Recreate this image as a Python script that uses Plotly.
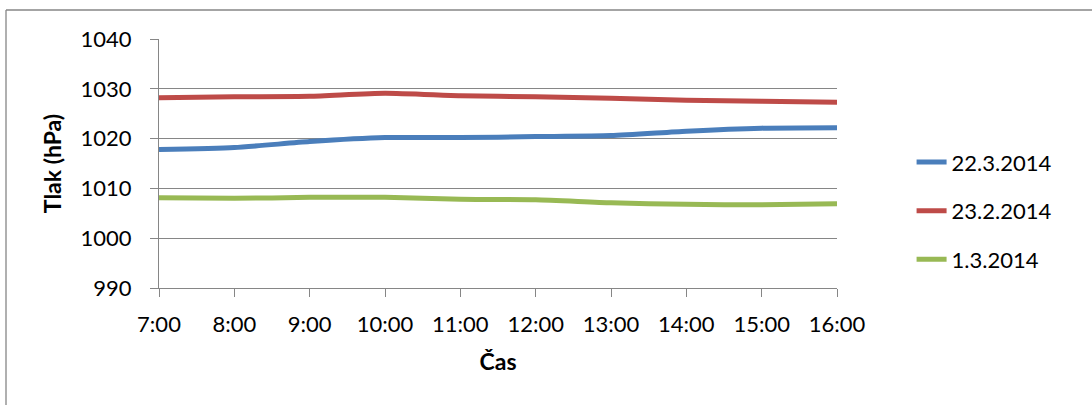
import plotly.graph_objects as go

hours = ["7:00", "8:00", "9:00", "10:00", "11:00", "12:00", "13:00", "14:00", "15:00", "16:00"]
s_22_3 = [1017.8, 1018.2, 1019.4, 1020.2, 1020.2, 1020.4, 1020.6, 1021.5, 1022.1, 1022.2]
s_23_2 = [1028.2, 1028.4, 1028.5, 1029.1, 1028.6, 1028.4, 1028.1, 1027.7, 1027.5, 1027.3]
s_1_3 = [1008.1, 1008.0, 1008.2, 1008.2, 1007.8, 1007.7, 1007.1, 1006.8, 1006.7, 1006.9]

series = [("22.3.2014", s_22_3, "#4A7EBB"),
          ("23.2.2014", s_23_2, "#BE4B48"),
          ("1.3.2014", s_1_3, "#98B954")]

FONT = "Lato, Open Sans, sans-serif"
W, H = 1092, 405
L, R, T, B = 159, 255, 39, 117

fig = go.Figure()
for name, vals, col in series:
    fig.add_trace(go.Scatter(x=hours, y=vals, name=name, mode="lines", legendgroup=name,
                             line=dict(color=col, width=5, shape="spline", smoothing=0.6)))

fig.update_layout(
    width=W, height=H,
    margin=dict(l=L, r=R, t=T, b=B),
    paper_bgcolor="white", plot_bgcolor="white",
    font=dict(family=FONT, size=22, color="black"),
    showlegend=True,
    legend=dict(x=1.11, y=0.31, xanchor="left", yanchor="middle",
                font=dict(size=22), tracegroupgap=17, itemwidth=30,
                bgcolor="rgba(0,0,0,0)"),
    xaxis=dict(type="category", range=[0, 9], showgrid=False,
               showline=True, linecolor="#868686", linewidth=1.3,
               ticks="outside", ticklen=8, tickcolor="#868686", ticklabelstandoff=8,
               tickfont=dict(size=22), title=dict(text="<b>Čas</b>", font=dict(size=23), standoff=18)),
    yaxis=dict(range=[990, 1040], dtick=10, showgrid=True, gridcolor="#868686", gridwidth=1.3,
               showline=True, linecolor="#868686", linewidth=1.3,
               ticks="outside", ticklen=8, tickcolor="#868686", ticklabelstandoff=14,
               tickfont=dict(size=22), zeroline=False,
               title=dict(text="<b>Tlak (hPa)</b>", font=dict(size=23), standoff=12)),
)

pw, ph = W - L - R, H - T - B
def px(x):
    return (x - L) / pw
def py(y):
    return (H - B - y) / ph

fig.add_shape(type="line", xref="paper", yref="paper",
              x0=px(6), x1=px(W + 5), y0=py(10), y1=py(10),
              line=dict(color="#868686", width=1.3))
fig.add_shape(type="line", xref="paper", yref="paper",
              x0=px(6), x1=px(6), y0=py(10), y1=py(H + 5),
              line=dict(color="#868686", width=1.3))

fig.write_html("out.html")
